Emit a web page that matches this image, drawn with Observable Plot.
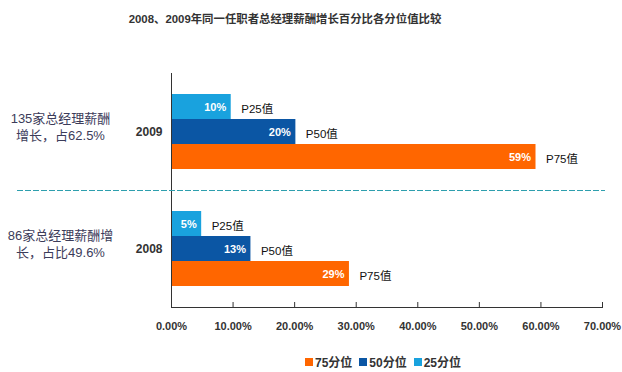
<!DOCTYPE html>
<html>
<head>
<meta charset="utf-8">
<script src="https://cdn.jsdelivr.net/npm/d3@7"></script>
<script src="https://cdn.jsdelivr.net/npm/@observablehq/plot@0.6"></script>
<style>
  html, body { margin: 0; padding: 0; background: #fff; }
  #wrap { position: relative; width: 622px; height: 372px; overflow: hidden;
          font-family: "Liberation Sans", Arial, "Noto Sans CJK SC", sans-serif; }
  #title { position: absolute; left: 0; width: 570px; top: 10px; text-align: center;
           font-size: 11.4px; font-weight: bold; color: #333; line-height: 18px; }
  #chart { position: absolute; left: 0; top: 0; }
  #legend { position: absolute; left: 171px; width: 431px; top: 345px; display: flex; justify-content: center; }
  #legend > * { margin: 0 !important; }
  #legend [class$="-swatch"] { margin-right: 7px !important; }
  #legend [class$="-swatch"] > svg { margin-right: 2px !important; }
</style>
</head>
<body>
<div id="wrap">
  <div id="title"></div>
  <div id="chart"></div>
  <div id="legend"></div>
</div>
<script>
const titleText = "2008、2009年同一任职者总经理薪酬增长百分比各分位值比较";
const years = ["2009", "2008"];
const percentiles = ["P25", "P50", "P75"];
const seriesNames = ["25分位", "50分位", "75分位"];
const legendOrder = ["75分位", "50分位", "25分位"];
const seriesColors = ["#FF6600", "#0B56A4", "#19A2DE"];
const values2009 = [9.7, 20.2, 59.2];
const values2008 = [4.9, 12.9, 28.9];
const labels2009 = ["10%", "20%", "59%"];
const labels2008 = ["5%", "13%", "29%"];
const notes = ["135家总经理薪酬\n增长，占62.5%", "86家总经理薪酬增\n长，占比49.6%"];
const xTicks = [0, 10, 20, 30, 40, 50, 60, 70];
const xTickLabels = ["0.00%", "10.00%", "20.00%", "30.00%", "40.00%", "50.00%", "60.00%", "70.00%"];

document.getElementById("title").textContent = titleText;

const rows = [];
[[years[0], values2009, labels2009], [years[1], values2008, labels2008]].forEach(([yr, vals, labs]) => {
  percentiles.forEach((p, i) => rows.push({year: yr, pct: p, series: seriesNames[i], value: vals[i], label: labs[i], name: p + "值"}));
});
const noteRows = years.map((yr, i) => ({year: yr, note: notes[i]}));

const font = '"Liberation Sans", Arial, "Noto Sans CJK SC", sans-serif';
const colorScale = {domain: legendOrder, range: [seriesColors[0], seriesColors[1], seriesColors[2]]};

const chart = Plot.plot({
  width: 622,
  height: 345,
  marginTop: 72,
  marginBottom: 38,
  marginLeft: 171,
  marginRight: 20,
  style: {fontFamily: font, background: "transparent", overflow: "visible"},
  x: {domain: [0, 70], axis: null},
  y: {domain: percentiles, paddingInner: 0, paddingOuter: 0.76, axis: null},
  fy: {domain: years, padding: 0, axis: null},
  color: colorScale,
  marks: [
    Plot.barX(rows, {fy: "year", y: "pct", x: "value", fill: "series"}),
    Plot.text(rows, {fy: "year", y: "pct", x: "value", text: "label", textAnchor: "end", dx: -5, dy: 0,
                     fill: "white", fontWeight: "bold", fontSize: 11}),
    Plot.text(rows, {fy: "year", y: "pct", x: "value", text: "name", textAnchor: "start", dx: 10, dy: 2,
                     fill: "#111", fontSize: 11.5}),
    Plot.text(noteRows, {fy: "year", text: "note", frameAnchor: "left", dx: -111, dy: -6, textAnchor: "middle",
                         fontSize: 13, lineHeight: 1.3, fill: "#3c3c5a"}),
    Plot.frame({anchor: "left", stroke: "#333"}),
    Plot.frame({anchor: "bottom", facetAnchor: "bottom", stroke: "#333"}),
    Plot.frame({anchor: "top", facetAnchor: "bottom", insetLeft: -154, insetRight: -2,
                stroke: "#2E9FAE", strokeDasharray: "5,3"}),
    Plot.axisFy({anchor: "left", tickSize: 0, tickPadding: 9, fontWeight: "bold", fontSize: 12,
                 fill: "#333", label: null}),
    Plot.axisX({ticks: xTicks, tickSize: -5, text: null, stroke: "#333", label: null}),
    Plot.axisX({ticks: xTicks, tickSize: 0, tickPadding: 15, tickFormat: (d) => xTickLabels[xTicks.indexOf(d)],
                fontWeight: "bold", fontSize: 11, fill: "#333", label: null})
  ]
});
document.getElementById("chart").appendChild(chart);

const legend = Plot.legend({
  color: colorScale,
  legend: "swatches",
  swatchSize: 8,
  style: {fontFamily: font, fontSize: "12px", fontWeight: "bold", color: "#333"}
});
document.getElementById("legend").appendChild(legend);
</script>
</body>
</html>
